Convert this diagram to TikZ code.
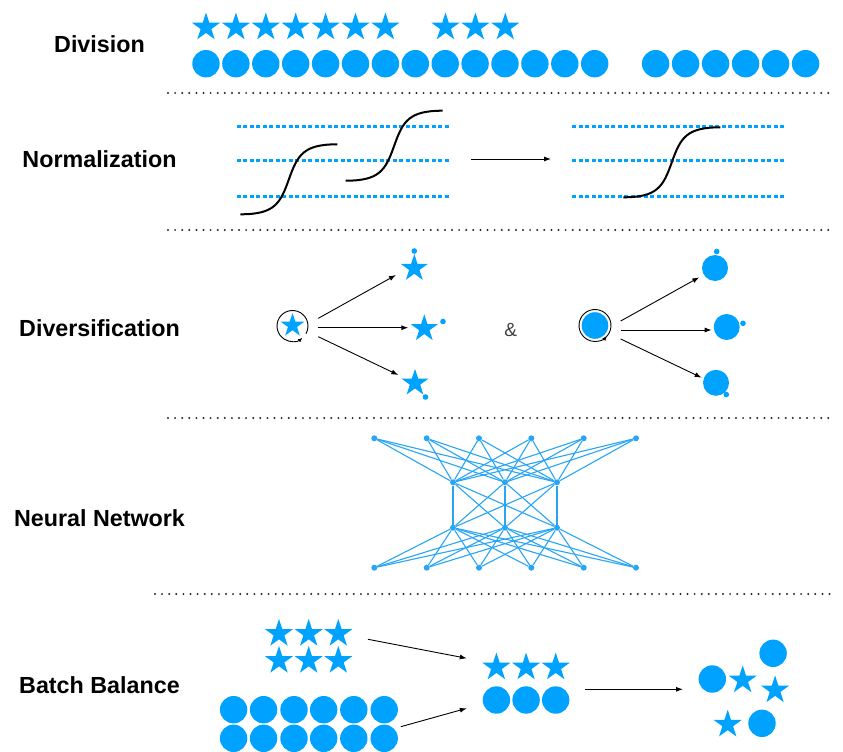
\documentclass[tikz,border=0pt]{standalone}
\usepackage{fontspec}
\setmainfont{Liberation Sans}
\usetikzlibrary{shapes.geometric,arrows.meta,calc}
\definecolor{bblue}{RGB}{0,162,255}
\definecolor{nblue}{RGB}{40,165,245}
\begin{document}
\begin{tikzpicture}[x=1pt,y=-1pt,
  bstar/.style={star,star points=5,star point ratio=2.618,fill=bblue,draw=none,inner sep=0pt,minimum size=29.5pt},
  dstar/.style={bstar,minimum size=28.5pt},
  istar/.style={bstar,minimum size=25pt},
  bdot/.style={circle,fill=bblue,draw=none,inner sep=0pt,minimum size=27.4pt},
  ddot/.style={circle,fill=bblue,draw=none,inner sep=0pt,minimum size=26pt},
  tdot/.style={circle,fill=bblue,draw=none,inner sep=0pt,minimum size=5.6pt},
  nn/.style={circle,fill=nblue,draw=none,inner sep=0pt,minimum size=6pt},
  nnl/.style={draw=nblue,line width=1.1pt},
  lbl/.style={font=\fontsize{23.3}{28}\selectfont\bfseries,anchor=base,inner sep=0pt},
  sep/.style={draw=black!85,line width=2.2pt,line cap=round,dash pattern=on 0pt off 7.1pt},
  bdash/.style={draw=bblue,line width=2.2pt,dash pattern=on 4pt off 2.5pt},
  curve/.style={draw=black,line width=2pt},
  arr/.style={draw=black,line width=0.9pt,-{Latex[length=7pt,width=5pt]}},
  spin/.style={draw=black,line width=0.9pt,-{Latex[length=4.5pt,width=4pt]}},
  pics/sigm/.style={code={\draw[curve] (0,0) .. controls (34,0) and (39.8,-10.5) .. (48.5,-35)
      .. controls (57.2,-59.5) and (63,-70) .. (97,-70);}}
]
\useasboundingbox (0,0) rectangle (843,752);

% labels
\node[lbl] (l1) at (99.5,52.3) {Division};
\node[lbl] (l2) at (99.5,167.3) {Normalization};
\node[lbl] (l3) at (99.5,336) {Diversification};
\node[lbl] (l4) at (99.5,526) {Neural Network};
\node[lbl] (l5) at (99.5,693.3) {Batch Balance};

% separators
\draw[sep] (168,93) -- (835,93);
\draw[sep] (168,230) -- (835,230);
\draw[sep] (168,418) -- (835,418);
\draw[sep] (155,594) -- (830,594);

% Division
\foreach \i in {0,...,6} \node[bstar] (ds\i) at (206+29.9*\i,27.3) {};
\foreach \i in {0,1,2} \node[bstar] (dt\i) at (445.5+29.9*\i,27.3) {};
\foreach \i in {0,...,13} \node[bdot] (dc\i) at (206+29.9*\i,63.7) {};
\foreach \i in {0,...,5} \node[bdot] (dd\i) at (655.6+30*\i,63.7) {};

% Normalization
\foreach \y in {126.5,160.5,196.5} {
  \draw[bdash] (236.7,\y) -- (448.6,\y);
  \draw[bdash] (572.4,\y) -- (784.3,\y);
}
\pic at (240.4,214.3) {sigm};
\pic at (345.7,180.7) {sigm};
\pic at (623.3,197.3) {sigm};
\coordinate (na) at (471,159);
\coordinate (nb) at (551,159);
\draw[arr] (na) -- (nb);

% Diversification - stars
\node[circle,minimum size=31pt,inner sep=0pt] (lc) at (292.5,326) {};
\node[istar] (ls) at (292.5,325.5) {};
\draw[spin] ([shift={(30:15.5)}]lc.center) arc[start angle=30,end angle=-310,radius=15.5];
\node[dstar] (t1) at (414.3,268.3) {};
\node[dstar] (t2) at (424.3,328.6) {};
\node[dstar] (t3) at (415,383) {};
\node[tdot] (td1) at (414.3,251) {};
\node[tdot] (td2) at (443,321.5) {};
\node[tdot] (td3) at (425.5,397) {};
\coordinate (sa1) at (318.3,318.3); \coordinate (se1) at (396,275);
\coordinate (sa2) at (318.3,327.7); \coordinate (se2) at (408.3,327.7);
\coordinate (sa3) at (318.3,336.7); \coordinate (se3) at (398.3,375);
\draw[arr] (sa1) -- (se1);
\draw[arr] (sa2) -- (se2);
\draw[arr] (sa3) -- (se3);

\node[font=\fontsize{19}{22}\selectfont,text=black!75,inner sep=0pt] (amp) at (510.7,330.2) {\&};

% Diversification - circles
\node[circle,fill=bblue,minimum size=26.6pt,inner sep=0pt] (rc) at (595,325.5) {};
\draw[spin] ([shift={(60:16)}]rc.center) arc[start angle=60,end angle=-318,radius=16];
\node[ddot] (c1) at (715,268) {};
\node[ddot] (c2) at (726.7,327) {};
\node[ddot] (c3) at (716,382.8) {};
\node[tdot] (cd1) at (716.7,251.5) {};
\node[tdot] (cd2) at (743,323.3) {};
\node[tdot] (cd3) at (726.3,394.5) {};
\coordinate (ca1) at (620.7,321); \coordinate (ce1) at (699.3,277.3);
\coordinate (ca2) at (620.7,330); \coordinate (ce2) at (711.7,330);
\coordinate (ca3) at (620.7,339); \coordinate (ce3) at (701.7,377.7);
\draw[arr] (ca1) -- (ce1);
\draw[arr] (ca2) -- (ce2);
\draw[arr] (ca3) -- (ce3);

% Neural network
\foreach \x [count=\i] in {374.3,426.7,479,531.3,583.7,636} {
  \node[nn] (a\i) at (\x,438.3) {};
  \node[nn] (d\i) at (\x,567.7) {};
}
\foreach \x [count=\i] in {453,505,557} {
  \node[nn] (b\i) at (\x,482.3) {};
  \node[nn] (c\i) at (\x,527.7) {};
}
\foreach \i in {1,...,6} \foreach \j in {1,2,3} {
  \draw[nnl] (a\i) -- (b\j);
  \draw[nnl] (d\i) -- (c\j);
}
\foreach \i in {1,2,3} \foreach \j in {1,2,3} \draw[nnl] (b\i) -- (c\j);

% Batch balance
\foreach \x [count=\i] in {279,308.7,338.3} {
  \node[bstar] (bs\i) at (\x,633.7) {};
  \node[bstar] (bt\i) at (\x,660.7) {};
}
\foreach \x [count=\i] in {233.6,263.6,294,323.7,353.8,384.2} {
  \node[bdot] (bc\i) at (\x,709.7) {};
  \node[bdot] (bd\i) at (\x,738.3) {};
}
\foreach \x [count=\i] in {496.4,526.1,555.7} {
  \node[bstar] (ms\i) at (\x,667.3) {};
  \node[bdot] (mc\i) at (\x,700) {};
}
\coordinate (ba1) at (368,639.3); \coordinate (be1) at (466.8,658.3);
\coordinate (ba2) at (400.8,726.7); \coordinate (be2) at (466.8,708.3);
\coordinate (ba3) at (585.4,689.3); \coordinate (be3) at (683,689.3);
\draw[arr] (ba1) -- (be1);
\draw[arr] (ba2) -- (be2);
\draw[arr] (ba3) -- (be3);
\node[bdot] (rc1) at (773.1,653.3) {};
\node[bdot] (rc2) at (712.3,679) {};
\node[bdot] (rc3) at (762,723.3) {};
\node[bstar] (rs1) at (742.7,680.2) {};
\node[bstar] (rs2) at (775.1,690.2) {};
\node[bstar] (rs3) at (727.7,724.5) {};
\end{tikzpicture}
\end{document}
